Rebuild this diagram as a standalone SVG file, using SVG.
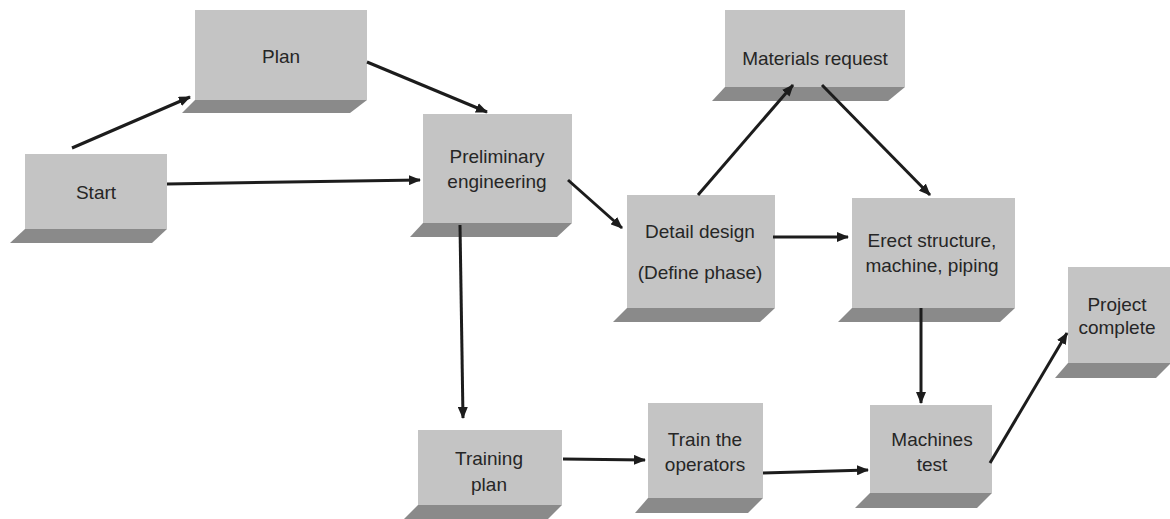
<svg xmlns="http://www.w3.org/2000/svg" width="1170" height="519" viewBox="0 0 1170 519">
  <style>
    .face { fill: #c4c4c4; }
    .base { fill: #8a8a8a; }
    .lbl { font-family: "Liberation Sans", Arial, sans-serif; font-size: 19px; fill: #262626; text-anchor: middle; }
    .conn { stroke: #1c1c1c; stroke-width: 3; fill: none; marker-end: url(#arrow); }
  </style>
  <defs>
    <marker id="arrow" viewBox="0 0 12 10" refX="11" refY="5" markerWidth="12" markerHeight="10" markerUnits="userSpaceOnUse" orient="auto">
      <path d="M0,0 L12,5 L0,10 Z" fill="#1c1c1c"/>
    </marker>
  </defs>
  <rect width="1170" height="519" fill="#ffffff"/>

  <!-- nodes: front face plus a slanted base below -->
  <g id="start">
    <polygon class="base" points="25,229 167,229 152,243 10,243"/>
    <rect class="face" x="25" y="154" width="142" height="75"/>
    <text class="lbl" x="96" y="199">Start</text>
  </g>
  <g id="plan">
    <polygon class="base" points="195,100 367,100 350,113 182,113"/>
    <rect class="face" x="195" y="10" width="172" height="90"/>
    <text class="lbl" x="281" y="63">Plan</text>
  </g>
  <g id="preliminary">
    <polygon class="base" points="423,223 572,223 557,237 410,237"/>
    <rect class="face" x="423" y="114" width="149" height="109"/>
    <text class="lbl" x="497" y="163">Preliminary</text>
    <text class="lbl" x="497" y="188">engineering</text>
  </g>
  <g id="detail">
    <polygon class="base" points="627,308 775,308 760,322 613,322"/>
    <rect class="face" x="627" y="195" width="148" height="113"/>
    <text class="lbl" x="700" y="238">Detail design</text>
    <text class="lbl" x="700" y="279">(Define phase)</text>
  </g>
  <g id="materials">
    <polygon class="base" points="725,87 905,87 888,101 712,101"/>
    <rect class="face" x="725" y="10" width="180" height="77"/>
    <text class="lbl" x="815" y="65">Materials request</text>
  </g>
  <g id="erect">
    <polygon class="base" points="852,308 1015,308 1000,322 838,322"/>
    <rect class="face" x="852" y="198" width="163" height="110"/>
    <text class="lbl" x="932" y="247">Erect structure,</text>
    <text class="lbl" x="932" y="272">machine, piping</text>
  </g>
  <g id="complete">
    <polygon class="base" points="1068,363 1170,363 1170,364 1156,378 1055,378"/>
    <rect class="face" x="1068" y="267" width="102" height="96"/>
    <text class="lbl" x="1117" y="311">Project</text>
    <text class="lbl" x="1117" y="334">complete</text>
  </g>
  <g id="training">
    <polygon class="base" points="418,505 562,505 548,519 404,519"/>
    <rect class="face" x="418" y="430" width="144" height="75"/>
    <text class="lbl" x="489" y="465">Training</text>
    <text class="lbl" x="489" y="491">plan</text>
  </g>
  <g id="operators">
    <polygon class="base" points="648,498 763,498 748,513 635,513"/>
    <rect class="face" x="648" y="403" width="115" height="95"/>
    <text class="lbl" x="705" y="446">Train the</text>
    <text class="lbl" x="705" y="471">operators</text>
  </g>
  <g id="machines">
    <polygon class="base" points="870,493 992,493 977,508 855,508"/>
    <rect class="face" x="870" y="405" width="122" height="88"/>
    <text class="lbl" x="932" y="446">Machines</text>
    <text class="lbl" x="932" y="471">test</text>
  </g>

  <!-- connectors, drawn over the node bases -->
  <g id="connectors">
    <line class="conn" x1="72" y1="148" x2="190" y2="97"/>
    <line class="conn" x1="367" y1="62" x2="487" y2="112"/>
    <line class="conn" x1="167" y1="184" x2="420" y2="180"/>
    <line class="conn" x1="568" y1="180" x2="622" y2="228"/>
    <line class="conn" x1="460" y1="225" x2="463" y2="418"/>
    <line class="conn" x1="698" y1="195" x2="793" y2="85"/>
    <line class="conn" x1="822" y1="85" x2="930" y2="195"/>
    <line class="conn" x1="773" y1="237" x2="848" y2="237"/>
    <line class="conn" x1="921" y1="308" x2="921" y2="403"/>
    <line class="conn" x1="563" y1="459" x2="645" y2="460"/>
    <line class="conn" x1="763" y1="473" x2="868" y2="470"/>
    <line class="conn" x1="990" y1="463" x2="1067" y2="333"/>
  </g>
</svg>
